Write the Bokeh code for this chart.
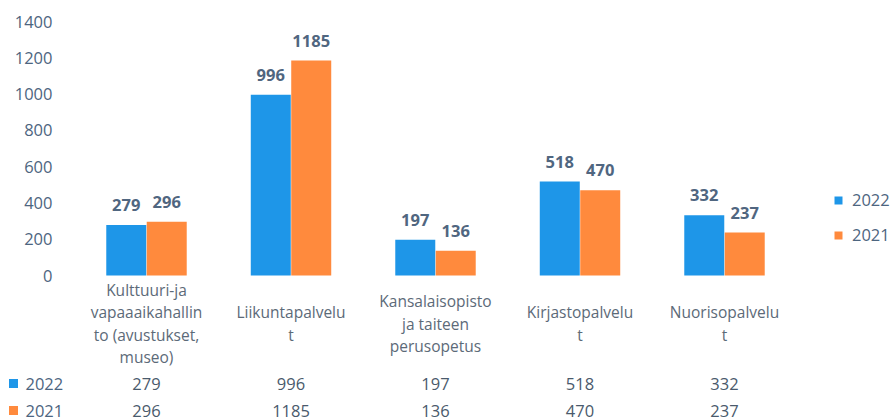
from bokeh.plotting import figure
from bokeh.models import Range1d, FixedTicker, ColumnDataSource, Legend, LegendItem
from bokeh.layouts import column
from bokeh.embed import file_html
from bokeh.resources import INLINE
from bokeh.core.properties import value

# ---------------- data ----------------
categories = [
    "Kulttuuri-ja\nvapaaaikahallin\nto (avustukset,\nmuseo)",
    "Liikuntapalvelu\nt",
    "Kansalaisopisto\nja taiteen\nperusopetus",
    "Kirjastopalvelu\nt",
    "Nuorisopalvelu\nt",
]
series_names = ["2022", "2021"]
values_2022 = [279, 996, 197, 518, 332]
values_2021 = [296, 1185, 136, 470, 237]
y_ticks = [0, 200, 400, 600, 800, 1000, 1200, 1400]

# ---------------- style / layout ----------------
BLUE = "#1E96E8"
ORANGE = "#FF8A3D"
FONT = "Open Sans"
TICK_COLOR = "#4D6580"
CAT_COLOR = "#5C6A78"
VAL_COLOR = "#506680"
TAB_COLOR = "#4A5A6C"

W = 893
H1 = 368
H2 = 52
PX_PER_CAT = 144.5
CX0 = 146          # screen x of first category centre
FRAME_LEFT = 74
TOP_PX = 21        # screen y of 1400
ZERO_PX = 275      # screen y of 0
UPP = 1400 / (ZERO_PX - TOP_PX)
BAR_W = 40 / PX_PER_CAT
DODGE = 0.14

idx = list(range(len(categories)))

p = figure(width=W, height=H1, output_backend="svg", toolbar_location=None,
           x_range=Range1d((FRAME_LEFT - CX0) / PX_PER_CAT, (W - CX0) / PX_PER_CAT),
           y_range=Range1d(-(H1 - ZERO_PX) * UPP, 1400 + TOP_PX * UPP),
           x_axis_location=None,
           min_border_left=FRAME_LEFT, min_border_right=0,
           min_border_top=0, min_border_bottom=0)
p.frame_align = False
p.outline_line_color = None
p.grid.visible = False
p.background_fill_color = "white"
p.border_fill_color = "white"

ax = p.yaxis[0]
ax.ticker = FixedTicker(ticks=y_ticks)
ax.axis_line_color = None
ax.major_tick_line_color = None
ax.minor_tick_line_color = None
ax.major_tick_in = 0
ax.major_tick_out = 0
ax.major_label_standoff = 22
ax.major_label_text_font = FONT
ax.major_label_text_font_size = "16.5px"
ax.major_label_text_color = TICK_COLOR

src = ColumnDataSource(dict(
    x22=[i - DODGE for i in idx], x21=[i + DODGE for i in idx],
    v22=values_2022, v21=values_2021,
    t22=[str(v) for v in values_2022], t21=[str(v) for v in values_2021],
))

r22 = p.vbar(x="x22", top="v22", width=BAR_W, bottom=0, source=src,
             fill_color=BLUE, line_color=None)
r21 = p.vbar(x="x21", top="v21", width=BAR_W, bottom=0, source=src,
             fill_color=ORANGE, line_color=None)

for xcol, tcol, vcol in (("x22", "t22", "v22"), ("x21", "t21", "v21")):
    p.text(x=xcol, y=vcol, text=tcol, source=src, text_align="center",
           text_baseline="middle", y_offset=-20,
           text_font=value(FONT), text_font_size="16.5px", text_font_style="bold",
           text_color=VAL_COLOR)

# category labels (multi-line, block centred)
LINE_H = 22.5
cat_y = -(323 - ZERO_PX) * UPP
lx, ly, lt, lo = [], [], [], []
for i, c in zip(idx, categories):
    lines = c.split("\n")
    n = len(lines)
    for j, s in enumerate(lines):
        lx.append(i); ly.append(cat_y); lt.append(s)
        lo.append((j - (n - 1) / 2) * LINE_H)
p.text(x=lx, y=ly, text=lt, y_offset=lo, text_align="center", text_baseline="middle",
       text_font=value(FONT), text_font_size="15.5px", text_color=CAT_COLOR)

legend = Legend(items=[LegendItem(label=series_names[0], renderers=[r22]),
                       LegendItem(label=series_names[1], renderers=[r21])],
                location=(759, 122), padding=0, margin=0, spacing=12,
                glyph_width=10, glyph_height=10, label_height=20,
                label_standoff=9, border_line_color=None,
                background_fill_alpha=0,
                label_text_font=FONT, label_text_font_size="16.5px",
                label_text_color=TICK_COLOR)
p.add_layout(legend)

# ---------------- data table below ----------------
t = figure(width=W, height=H2, output_backend="svg", toolbar_location=None,
           x_range=Range1d(-CX0 / PX_PER_CAT, (W - CX0) / PX_PER_CAT),
           y_range=Range1d(H2, 0),
           x_axis_location=None, y_axis_location=None,
           min_border_left=0, min_border_right=0, min_border_top=0, min_border_bottom=0)
t.frame_align = False
t.outline_line_color = None
t.grid.visible = False

row_y = [15, 42]
tx, ty, tt = [], [], []
for ry, vals in zip(row_y, (values_2022, values_2021)):
    for i, v in zip(idx, vals):
        tx.append(i); ty.append(ry); tt.append(str(v))
t.text(x=tx, y=ty, text=tt, text_align="center", text_baseline="middle",
       text_font=value(FONT), text_font_size="16.5px", text_color=TAB_COLOR)

sq_x = (13 - CX0) / PX_PER_CAT
lab_x = (25 - CX0) / PX_PER_CAT
t.scatter(x=[sq_x, sq_x], y=row_y, marker="square", size=9,
          fill_color=[BLUE, ORANGE], line_color=None)
t.text(x=[lab_x, lab_x], y=row_y, text=series_names, text_align="left",
       text_baseline="middle", text_font=value(FONT), text_font_size="16.5px",
       text_color=TICK_COLOR)

layout = column(p, t, spacing=0)
open("out.html", "w").write(file_html(layout, INLINE))
